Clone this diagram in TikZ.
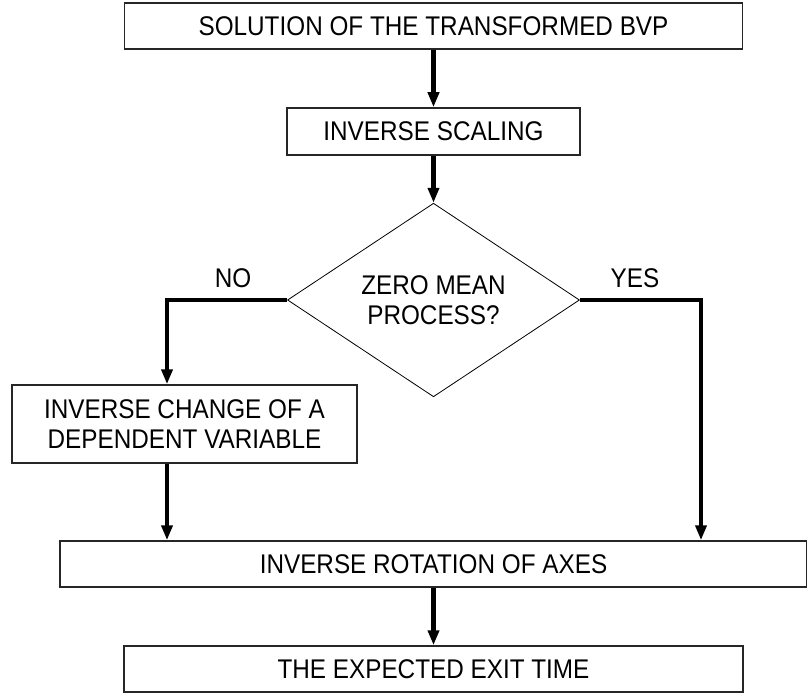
\documentclass[tikz,border=0pt]{standalone}
\usepackage{fontspec}
\setmainfont{Liberation Sans}[FakeStretch=0.9]
\usetikzlibrary{arrows.meta,positioning,shapes.geometric}

\begin{document}
\begin{tikzpicture}[
  x=1pt, y=-1pt,
  font=\fontsize{27}{30}\selectfont,
  stepbox/.style={rectangle, draw=black!85, line width=1.5pt, fill=white,
                  inner sep=0pt, minimum height=46pt, align=center},
  decide/.style={diamond, draw=black, line width=0.8pt, inner sep=0pt,
                 minimum width=292pt, minimum height=188pt, align=center},
  lbl/.style={inner sep=0pt},
  ar/.style={-{Triangle[length=15pt,width=11pt]}, line width=4.3pt}
]
\useasboundingbox (0,0) rectangle (807,693);

\node[stepbox, minimum width=618pt] (sol) at (433.5,26) {SOLUTION OF THE TRANSFORMED BVP};
\node[stepbox, minimum width=293pt, minimum height=47pt] (isc) at (433.5,131.5) {INVERSE SCALING};
\node[decide] (zmp) at (433.5,300) {ZERO MEAN\\PROCESS?};
\node[stepbox, minimum width=345pt, minimum height=78pt] (icd) at (184.5,424)
  {INVERSE CHANGE OF A\\DEPENDENT VARIABLE};
\node[stepbox, minimum width=747pt] (ira) at (433.5,564) {INVERSE ROTATION OF AXES};
\node[stepbox, minimum width=619pt] (exit) at (433.5,669) {THE EXPECTED EXIT TIME};

\coordinate (nobend) at (167,300);
\coordinate (yesbend) at (701,300);

\node[lbl] (no) at (233,278) {NO};
\node[lbl] (yes) at (635,278) {YES};

\draw[ar] (sol) -- (isc);
\draw[ar] (isc) -- (zmp);
\draw[ar] (zmp.west) -- (nobend) -- (nobend |- icd.north);
\draw[ar] (zmp.east) -- (yesbend) -- (yesbend |- ira.north);
\draw[ar] (nobend |- icd.south) -- (nobend |- ira.north);
\draw[ar] (ira) -- (exit);
\end{tikzpicture}
\end{document}
